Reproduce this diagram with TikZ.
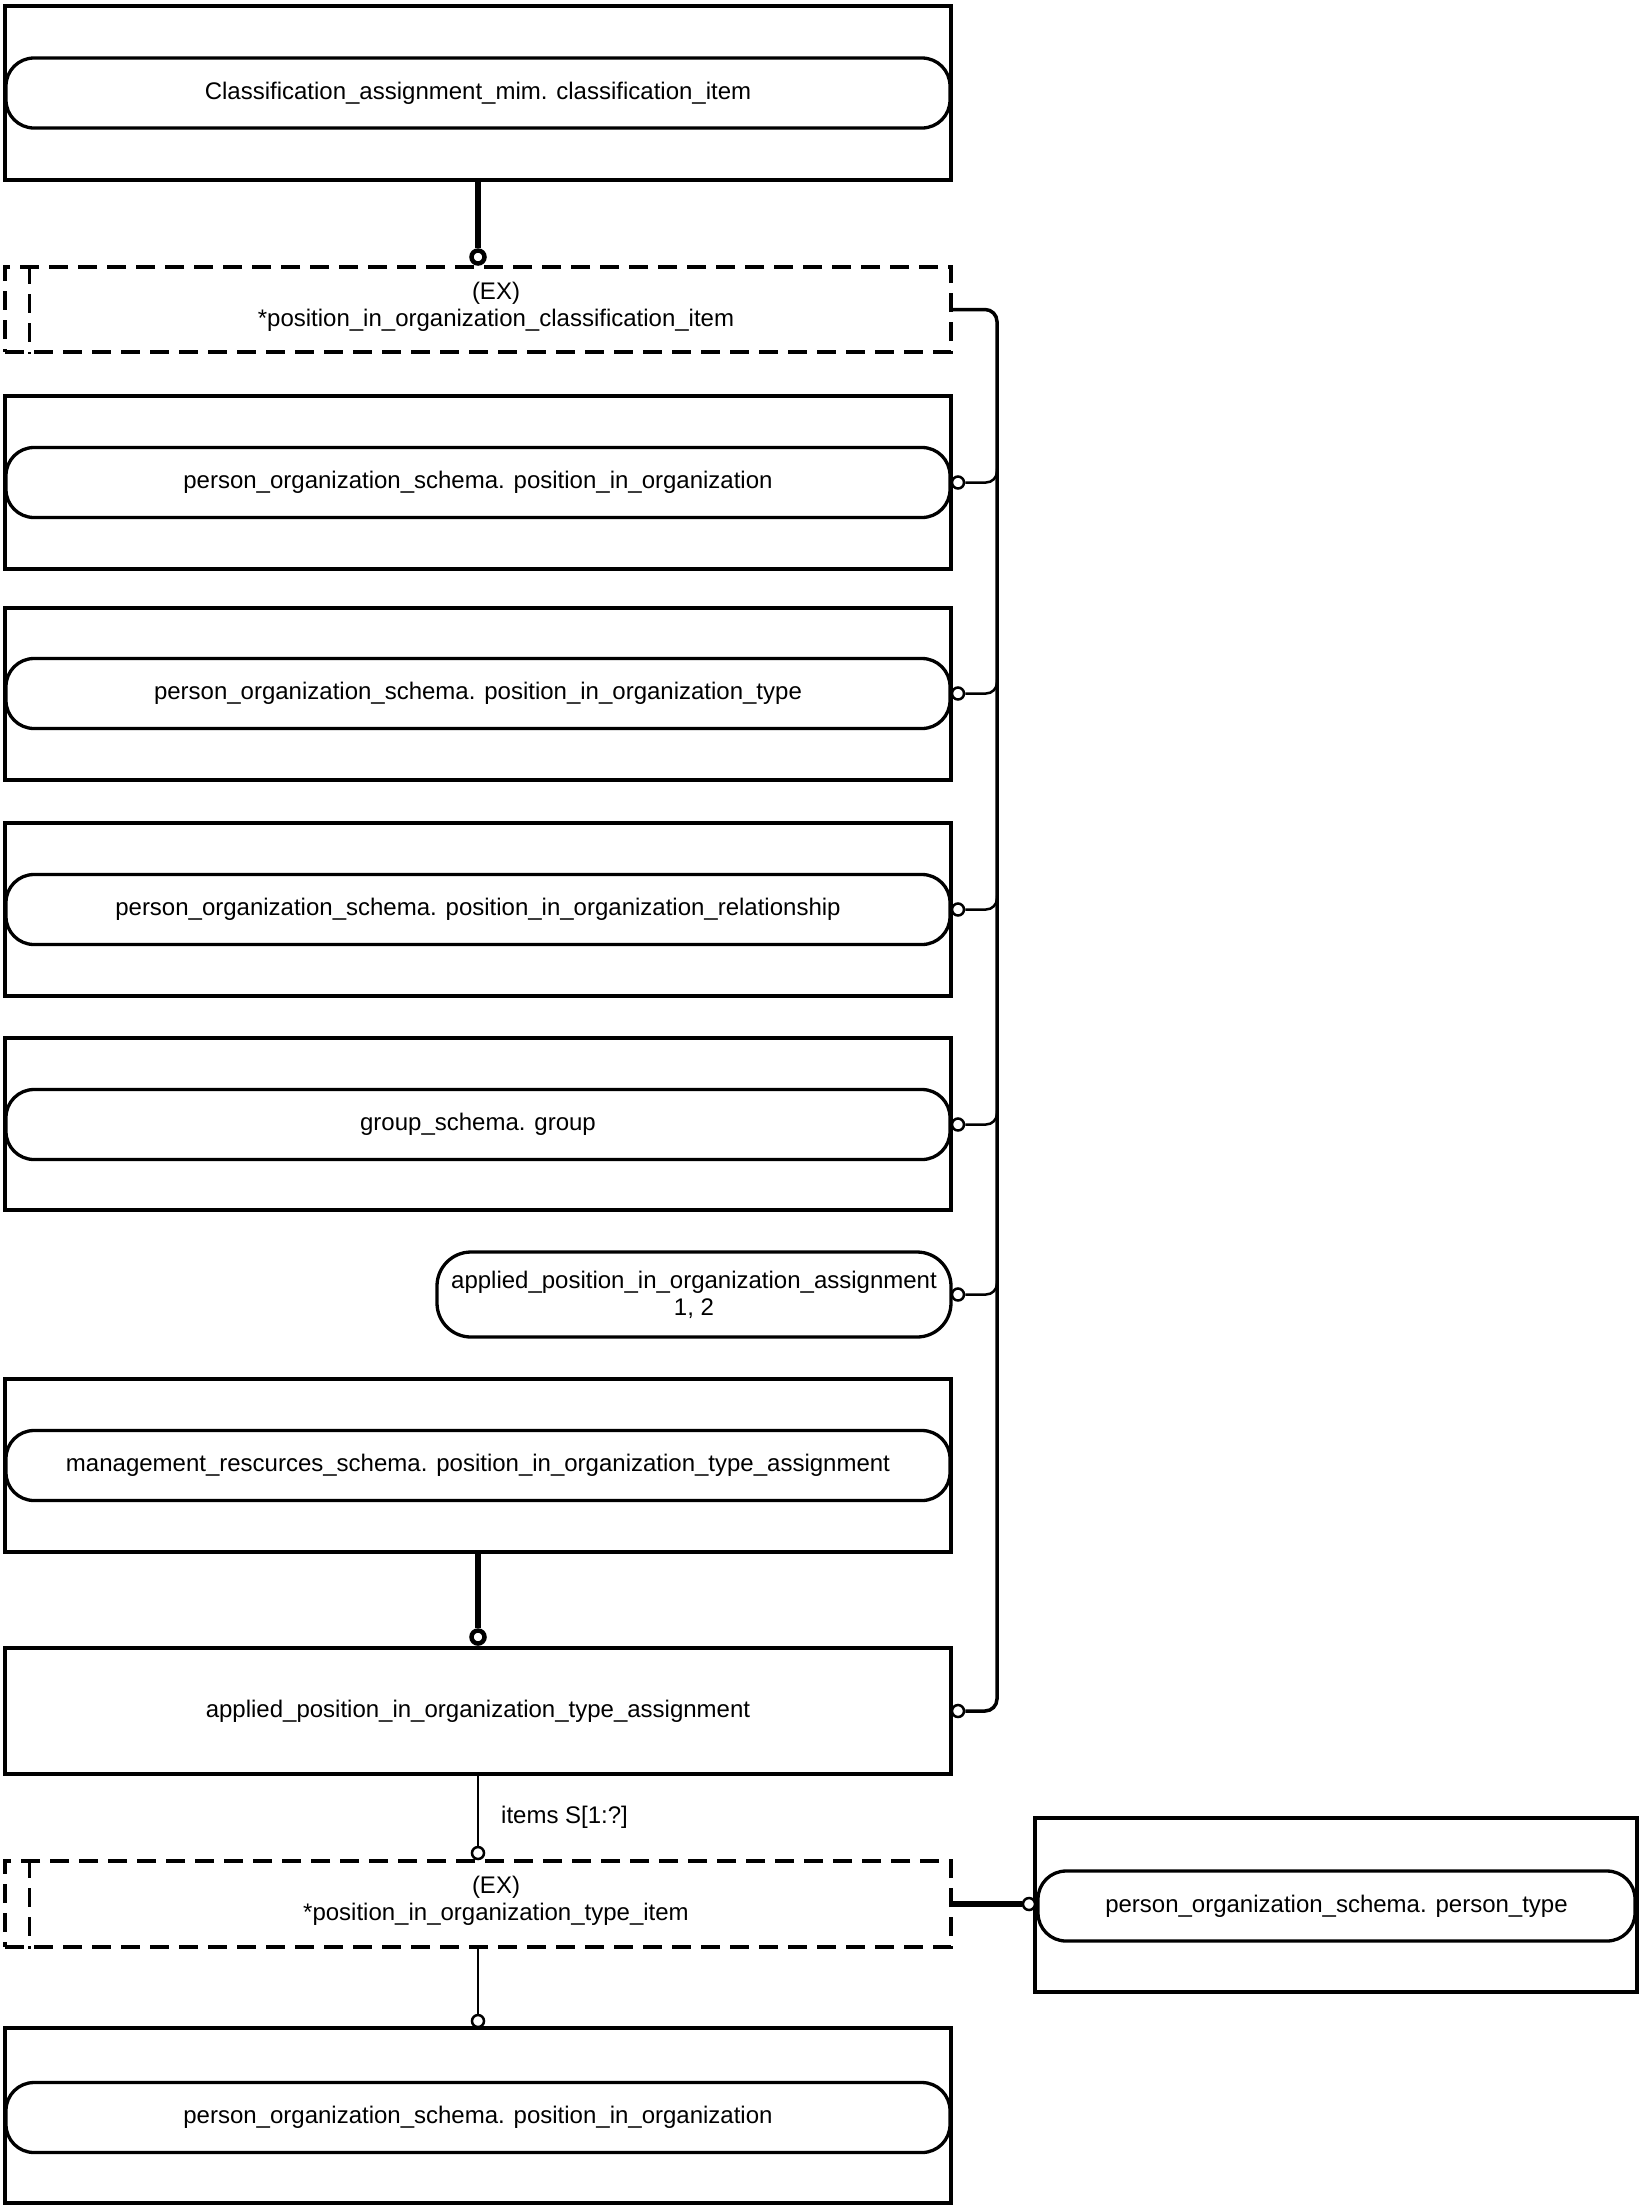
\documentclass[tikz,border=0pt]{standalone}
\usepackage{fontspec}
\setmainfont{Liberation Sans}
\usetikzlibrary{calc}
\newcommand\dfont{\fontsize{24}{27}\selectfont}
\begin{document}
\begin{tikzpicture}[x=1pt,y=-1pt,
  box/.style={draw, rectangle, line width=4pt, minimum width=946pt, inner sep=0pt, font=\dfont},
  pill/.style={draw, rectangle, line width=3.3pt, rounded corners=28pt, minimum width=944pt, minimum height=70pt, inner sep=0pt, font=\dfont},
  dbox/.style={draw, rectangle, line width=3.5pt, dash pattern=on 19pt off 10pt, minimum width=946pt, inner sep=0pt},
  dline/.style={line width=3.5pt, dash pattern=on 19pt off 10pt},
  etext/.style={align=center, font=\dfont, inner sep=0pt},
  ocirc/.style={circle, draw, line width=2.5pt, minimum size=12pt, inner sep=0pt, fill=white},
  tcirc/.style={circle, draw, line width=4.5pt, minimum size=13pt, inner sep=0pt, fill=white},
  thinline/.style={line width=2.5pt},
  thickline/.style={line width=5.5pt},
  busline/.style={line width=3.5pt, rounded corners=12pt},
  branch/.style={line width=2.5pt, rounded corners=11pt}]
\useasboundingbox (0,0) rectangle (1641,2209);

% top box
\node[box, minimum height=174pt] (t1) at (478,93) {};
\node[pill] (p1) at (478,93) {Classification\_assignment\_mim. classification\_item};

% dashed box 1
\node[dbox, minimum height=85pt] (d1) at (478,309.5) {};
\draw[dline] ([xshift=26pt]d1.north west) -- ([xshift=26pt]d1.south west);
\node[etext] (d1t) at (496,306.5) {(EX)\\{*}position\_in\_organization\_classification\_item};

% boxes
\node[box, minimum height=173pt] (b2) at (478,482.5) {};
\node[pill] (p2) at (478,482.5) {person\_organization\_schema. position\_in\_organization};

\node[box, minimum height=172pt] (b3) at (478,694) {};
\node[pill] (p3) at (478,693.5) {person\_organization\_schema. position\_in\_organization\_type};

\node[box, minimum height=173pt] (b4) at (478,909.5) {};
\node[pill] (p4) at (478,909.5) {person\_organization\_schema. position\_in\_organization\_relationship};

\node[box, minimum height=172pt] (b5) at (478,1124) {};
\node[pill] (p5) at (478,1124.5) {group\_schema. group};

\node[pill, minimum width=514pt, minimum height=85pt, rounded corners=34pt, align=center] (p6) at (694,1294.5) {applied\_position\_in\_organization\_assignment\\1, 2};

\node[box, minimum height=173pt] (b7) at (478,1465.5) {};
\node[pill] (p7) at (478,1465.5) {management\_rescurces\_schema. position\_in\_organization\_type\_assignment};

\node[box, minimum height=126pt] (b8) at (478,1711) {applied\_position\_in\_organization\_type\_assignment};

% dashed box 2
\node[dbox, minimum height=86pt] (d2) at (478,1904) {};
\draw[dline] ([xshift=26pt]d2.north west) -- ([xshift=26pt]d2.south west);
\node[etext] (d2t) at (496,1900.5) {(EX)\\{*}position\_in\_organization\_type\_item};

% person type
\node[box, minimum width=602pt, minimum height=174pt] (bpt) at (1336,1905) {};
\node[pill, minimum width=597pt] (ppt) at (1336.5,1906) {person\_organization\_schema. person\_type};

% bottom box
\node[box, minimum height=175pt] (b9) at (478,2115.5) {};
\node[pill] (p9) at (478,2117.5) {person\_organization\_schema. position\_in\_organization};

% vertical connectors
\node[tcirc] (c1) at (478,257) {};
\draw[thickline] (t1.south) -- (c1.north);
\node[tcirc] (c2) at (478,1637) {};
\draw[thickline] (b7.south) -- (c2.north);
\node[ocirc] (c3) at (478,1853) {};
\draw[thinline] (b8.south) -- (c3.north);
\node[font=\dfont, anchor=west, inner sep=0pt] (lbl) at (501,1817) {items S[1:?]};
\node[ocirc] (c4) at (478,2021) {};
\draw[thinline] (d2.south) -- (c4.north);

% person type connector
\node[ocirc] (c5) at (1029,1904) {};
\draw[thickline] (d2.east) -- (c5.west);

% right-side circles
\node[ocirc] (r2) at (958,482.5) {};
\node[ocirc] (r3) at (958,693.5) {};
\node[ocirc] (r4) at (958,909.5) {};
\node[ocirc] (r5) at (958,1124.5) {};
\node[ocirc] (r6) at (958,1294.5) {};
\node[ocirc] (r8) at (958,1711) {};

% bus
\coordinate (busx) at (997,0);
\draw[busline] (d1.east) -| (busx |- r8.east) -- (r8.east);
\foreach \r in {r2,r3,r4,r5,r6}{
  \draw[branch] (\r.east) -| ($(busx |- \r.east)+(0,-14)$);
}
\end{tikzpicture}
\end{document}
